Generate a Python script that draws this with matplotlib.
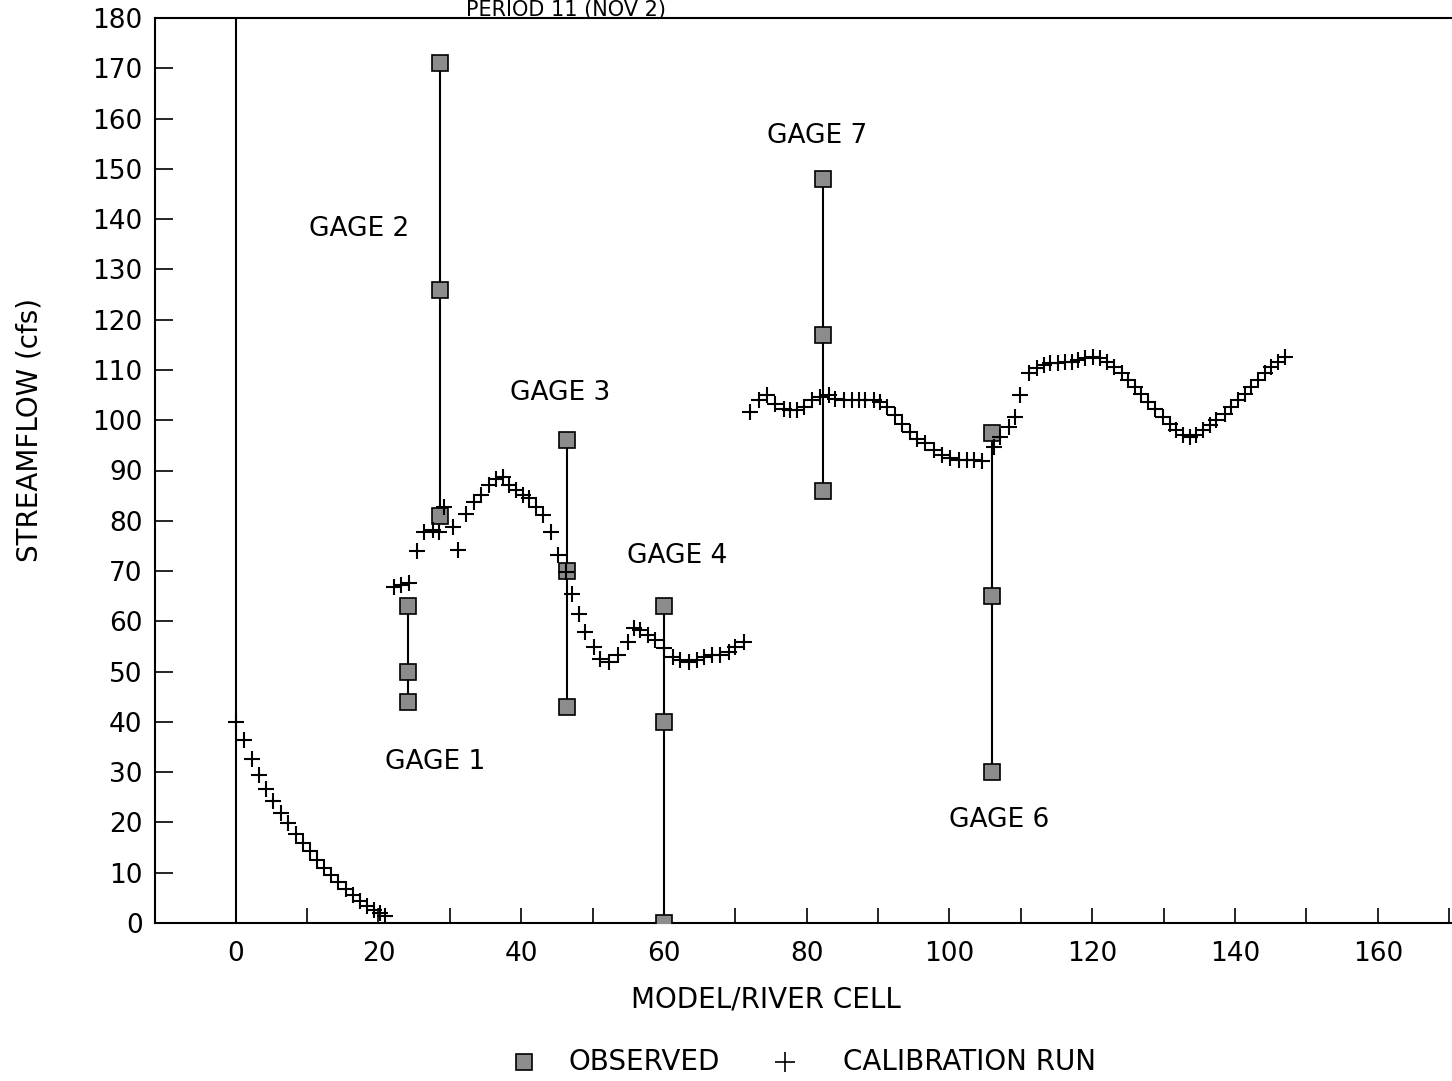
import matplotlib
matplotlib.use("Agg")
import matplotlib.pyplot as plt
from matplotlib.lines import Line2D

# Calibration run, upstream reach (cells 0-21)
calib_x1 = [0, 1.2, 2.3, 3.3, 4.3, 5.3, 6.4, 7.4, 8.4, 9.4, 10.4, 11.4,
            12.4, 13.4, 14.4, 15.4, 16.4, 17.4, 18.4, 19.4, 20.2, 20.9]
calib_y1 = [40, 36.3, 32.7, 29.4, 26.7, 24.2, 21.8, 19.8, 17.8, 16.0, 14.3, 12.6,
            11.0, 9.5, 8.1, 6.8, 5.5, 4.4, 3.3, 2.5, 2.0, 1.4]

# Calibration run, middle reach (gages 1-4)
calib_x2 = [22.2, 23.2, 24.3, 25.4, 26.4, 27.6, 28.5, 29.2, 30.4, 31.2, 32.3,
            33.4, 34.4, 35.5, 36.5, 37.4, 38.3, 39.3, 40.2, 41.1, 42.1, 43.0,
            44.2, 45.1, 46.3, 47.1, 48.1, 49.0, 50.2, 51.1, 52.3, 53.5, 54.9,
            55.8, 56.7, 57.7, 58.8, 60.0, 61.2, 62.3, 63.5, 64.7, 65.6, 66.8,
            67.9, 69.1, 70.0, 71.2]
calib_y2 = [66.9, 67.2, 67.7, 74.0, 77.8, 78.1, 77.8, 82.8, 78.8, 74.2, 81.4,
            83.7, 85.1, 87.1, 88.4, 88.7, 87.1, 86.1, 85.1, 84.5, 82.8, 81.1,
            77.8, 73.2, 69.8, 65.4, 61.4, 57.9, 54.9, 52.6, 51.9, 53.3, 55.9,
            58.6, 58.2, 57.3, 56.3, 54.6, 52.9, 52.3, 51.9, 52.3, 52.9, 53.3,
            53.3, 53.9, 54.9, 55.9]

# Calibration run, lower reach (gages 6-7)
calib_x3 = [72.1, 73.3, 74.4, 75.6, 76.8, 77.7, 78.7, 79.6, 80.8, 81.9, 83.1,
            84.0, 85.2, 86.4, 87.3, 88.2, 89.4, 90.3, 91.2, 92.4, 93.3, 94.5,
            95.4, 96.6, 97.8, 98.9, 100.1, 101.3, 102.4, 103.4, 104.5, 106.2,
            107.1, 108.3, 109.2, 109.9, 111.1, 112.2, 113.2, 114.1, 115.2,
            116.2, 117.1, 118.0, 119.0, 120.1, 121.1, 122.0, 123.0, 124.1,
            125.0, 126.0, 126.9, 127.8, 128.8, 129.9, 130.9, 131.8, 132.7,
            133.7, 134.6, 135.5, 136.5, 137.4, 138.6, 139.5, 140.4, 141.4,
            142.3, 143.2, 144.2, 145.1, 146.0, 147.0]
calib_y3 = [101.7, 104.0, 105.0, 103.3, 102.3, 102.0, 102.0, 102.6, 104.0,
            104.6, 105.0, 104.3, 104.0, 104.0, 104.0, 104.0, 104.0, 103.6,
            102.6, 101.0, 99.3, 97.7, 96.3, 95.4, 94.0, 93.0, 92.4, 92.1, 92.1,
            92.1, 91.8, 94.7, 96.7, 98.7, 100.6, 105.0, 109.3, 110.3, 110.9,
            111.3, 111.3, 111.6, 111.6, 111.9, 112.3, 112.6, 112.3, 111.6,
            110.6, 109.3, 108.0, 106.6, 105.3, 103.6, 102.3, 100.6, 99.3, 98.0,
            97.0, 96.7, 97.0, 98.0, 99.0, 100.0, 101.3, 102.6, 104.0, 105.3,
            106.6, 108.0, 109.3, 110.6, 111.6, 112.6]

# Observed flows at the gages (cell, values)
gage_names = ["GAGE 1", "GAGE 2", "GAGE 3", "GAGE 4", "GAGE 7", "GAGE 6"]
gage_cells = [24.2, 28.6, 46.4, 60.0, 82.3, 106.0]
gage_obs = [[44, 50, 63],
            [81, 126, 171],
            [43, 70, 96],
            [0, 40, 63],
            [86, 117, 148],
            [30, 65, 97.5]]
label_pos = [(28, 32), (17.3, 138), (45.5, 105.5), (61.8, 73),
             (81.5, 156.5), (107, 20.5)]

W, H = 1452, 1081
fig = plt.figure(figsize=(W / 100, H / 100), dpi=100)
ax = fig.add_axes([155 / W, 158 / H, 1297 / W, 905 / H])

obs_style = dict(linestyle="none", marker="s", markersize=11,
                 markerfacecolor="#8c8c8c", markeredgecolor="black",
                 markeredgewidth=1.2)
calib_style = dict(linestyle="none", marker="+", markersize=12,
                   markeredgewidth=1.5, color="black")

ax.axvline(0, color="black", lw=1.5)

# vertical bars joining the observed values at each gage
for cell, vals in zip(gage_cells, gage_obs):
    ax.plot([cell, cell], [min(vals), max(vals)], color="black", lw=1.5)
    ax.plot([cell] * len(vals), vals, zorder=4, **obs_style)

for xs, ys in [(calib_x1, calib_y1), (calib_x2, calib_y2), (calib_x3, calib_y3)]:
    ax.plot(xs, ys, zorder=5, **calib_style)

for name, (tx, ty) in zip(gage_names, label_pos):
    ax.text(tx, ty, name, ha="center", va="center", fontsize=19)

ax.set_xlim(-11.3, 170.4)
ax.set_ylim(0, 180)
ax.set_xticks(range(0, 161, 20))
ax.set_xticks(range(10, 171, 20), minor=True)
ax.set_yticks(range(0, 181, 10))
ax.tick_params(axis="both", which="both", direction="in", labelsize=19,
               width=1.2, color="black")
ax.tick_params(axis="x", which="both", length=11, pad=13)
ax.tick_params(axis="y", length=13, pad=9)
ax.spines["right"].set_visible(False)
for s in ["left", "bottom", "top"]:
    ax.spines[s].set_linewidth(1.5)

# axis titles, title and key placed in figure coordinates
fig.text(766 / W, 1 - 1000 / H, "MODEL/RIVER CELL", ha="center", va="center",
         fontsize=20)
fig.text(30 / W, 1 - 430 / H, "STREAMFLOW (cfs)", ha="center", va="center",
         rotation=90, fontsize=20)
fig.text(566 / W, 1.0, "PERIOD 11 (NOV 2)", ha="center", va="top",
         fontsize=15)

key_y = 1 - 1062 / H
fig.add_artist(Line2D([524 / W], [key_y], transform=fig.transFigure, **obs_style))
fig.text(568 / W, key_y, "OBSERVED", ha="left", va="center", fontsize=20)
fig.add_artist(Line2D([785 / W], [key_y], transform=fig.transFigure,
                      linestyle="none", marker="+", markersize=14,
                      markeredgewidth=1.2, color="black"))
fig.text(843 / W, key_y, "CALIBRATION RUN", ha="left", va="center", fontsize=20)

fig.savefig("out.png", dpi=100)
